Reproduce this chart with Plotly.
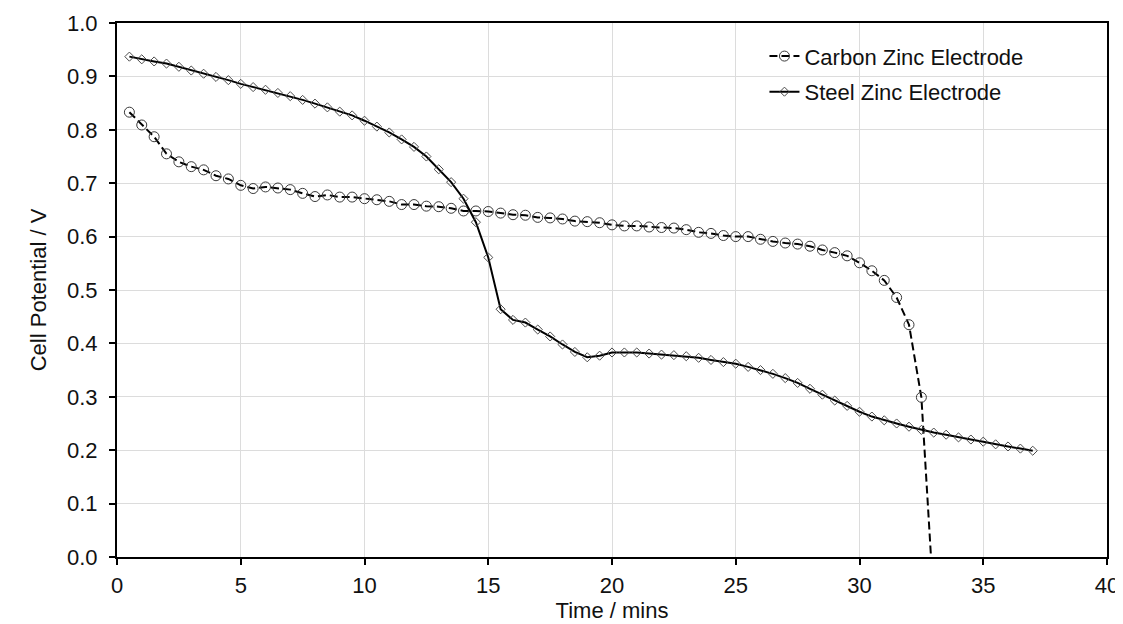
import plotly.graph_objects as go

# Carbon zinc electrode (last point drops below zero, clipped by the axis)
carbon_time = [0.5, 1.0, 1.5, 2.0, 2.5, 3.0, 3.5, 4.0, 4.5, 5.0,
               5.5, 6.0, 6.5, 7.0, 7.5, 8.0, 8.5, 9.0, 9.5, 10.0,
               10.5, 11.0, 11.5, 12.0, 12.5, 13.0, 13.5, 14.0, 14.5, 15.0,
               15.5, 16.0, 16.5, 17.0, 17.5, 18.0, 18.5, 19.0, 19.5, 20.0,
               20.5, 21.0, 21.5, 22.0, 22.5, 23.0, 23.5, 24.0, 24.5, 25.0,
               25.5, 26.0, 26.5, 27.0, 27.5, 28.0, 28.5, 29.0, 29.5, 30.0,
               30.5, 31.0, 31.5, 32.0, 32.5, 33.0]
carbon_potential = [0.833, 0.809, 0.787, 0.755, 0.740, 0.731, 0.725, 0.714, 0.708, 0.696,
                    0.690, 0.693, 0.691, 0.688, 0.681, 0.675, 0.678, 0.674, 0.674, 0.671,
                    0.669, 0.666, 0.660, 0.660, 0.657, 0.656, 0.653, 0.648, 0.648, 0.647,
                    0.644, 0.641, 0.640, 0.636, 0.635, 0.633, 0.629, 0.628, 0.626, 0.622,
                    0.620, 0.620, 0.618, 0.617, 0.616, 0.613, 0.608, 0.606, 0.602, 0.600,
                    0.600, 0.595, 0.591, 0.588, 0.586, 0.582, 0.575, 0.570, 0.564, 0.551,
                    0.536, 0.518, 0.486, 0.435, 0.299, -0.085]

# Steel zinc electrode
steel_time = [0.5, 1.0, 1.5, 2.0, 2.5, 3.0, 3.5, 4.0, 4.5, 5.0,
              5.5, 6.0, 6.5, 7.0, 7.5, 8.0, 8.5, 9.0, 9.5, 10.0,
              10.5, 11.0, 11.5, 12.0, 12.5, 13.0, 13.5, 14.0, 14.5, 15.0,
              15.5, 16.0, 16.5, 17.0, 17.5, 18.0, 18.5, 19.0, 19.5, 20.0,
              20.5, 21.0, 21.5, 22.0, 22.5, 23.0, 23.5, 24.0, 24.5, 25.0,
              25.5, 26.0, 26.5, 27.0, 27.5, 28.0, 28.5, 29.0, 29.5, 30.0,
              30.5, 31.0, 31.5, 32.0, 32.5, 33.0, 33.5, 34.0, 34.5, 35.0,
              35.5, 36.0, 36.5, 37.0]
steel_potential = [0.937, 0.932, 0.928, 0.924, 0.918, 0.911, 0.905, 0.899, 0.893, 0.886,
                   0.880, 0.875, 0.869, 0.863, 0.856, 0.849, 0.842, 0.834, 0.827, 0.817,
                   0.806, 0.795, 0.782, 0.768, 0.750, 0.726, 0.702, 0.671, 0.627, 0.561,
                   0.464, 0.444, 0.439, 0.426, 0.413, 0.398, 0.384, 0.374, 0.377, 0.383,
                   0.383, 0.383, 0.381, 0.379, 0.378, 0.376, 0.373, 0.369, 0.365, 0.362,
                   0.356, 0.350, 0.343, 0.335, 0.326, 0.315, 0.304, 0.293, 0.283, 0.272,
                   0.263, 0.256, 0.250, 0.244, 0.238, 0.233, 0.229, 0.224, 0.220, 0.216,
                   0.211, 0.207, 0.203, 0.199]

FONT = "Liberation Sans, Arial, sans-serif"
FSIZE = 22

fig = go.Figure()

fig.add_trace(go.Scatter(
    x=carbon_time, y=carbon_potential,
    mode='lines+markers',
    name='Carbon Zinc Electrode',
    legendgroup='carbon',
    line=dict(color='black', width=2, dash='8px,4px'),
    marker=dict(symbol='circle-open', size=10, color='#3a3a3a',
                line=dict(width=1, color='#3a3a3a'))
))

fig.add_trace(go.Scatter(
    x=steel_time, y=steel_potential,
    mode='lines+markers',
    name='Steel Zinc Electrode',
    legendgroup='steel',
    line=dict(color='black', width=2),
    marker=dict(symbol='diamond-open', size=7, color='#4a4a4a',
                line=dict(width=1, color='#4a4a4a'))
))

axis_style = dict(
    showline=True, linecolor='black', linewidth=2, mirror=True,
    ticks='outside', ticklen=6, tickwidth=2, tickcolor='black',
    showgrid=True, gridcolor='#dcdcdc', gridwidth=1,
    zeroline=False, automargin=False,
    tickfont=dict(family=FONT, size=FSIZE, color='#111'),
)

# page body adds an 8px offset, so the figure is 8px smaller than the window
fig.update_layout(
    width=1115, height=616,
    margin=dict(l=109, r=16, t=15, b=67),
    paper_bgcolor='white', plot_bgcolor='white',
    font=dict(family=FONT, size=FSIZE, color='#111'),
    showlegend=True,
    legend=dict(
        x=0.654, y=0.977, xanchor='left', yanchor='top',
        bgcolor='rgba(0,0,0,0)', traceorder='grouped', tracegroupgap=4,
        font=dict(family=FONT, size=FSIZE, color='#111'),
    ),
)

fig.update_xaxes(range=[0, 40], dtick=5, tick0=0,
                 title=dict(text='Time / mins', font=dict(family=FONT, size=FSIZE), standoff=2),
                 ticklabelstandoff=2,
                 **axis_style)
fig.update_yaxes(range=[0, 1], dtick=0.1, tick0=0, tickformat='.1f',
                 title=dict(text='Cell Potential / V', font=dict(family=FONT, size=FSIZE), standoff=14),
                 ticklabelstandoff=7,
                 **axis_style)

fig.write_html("out.html")
